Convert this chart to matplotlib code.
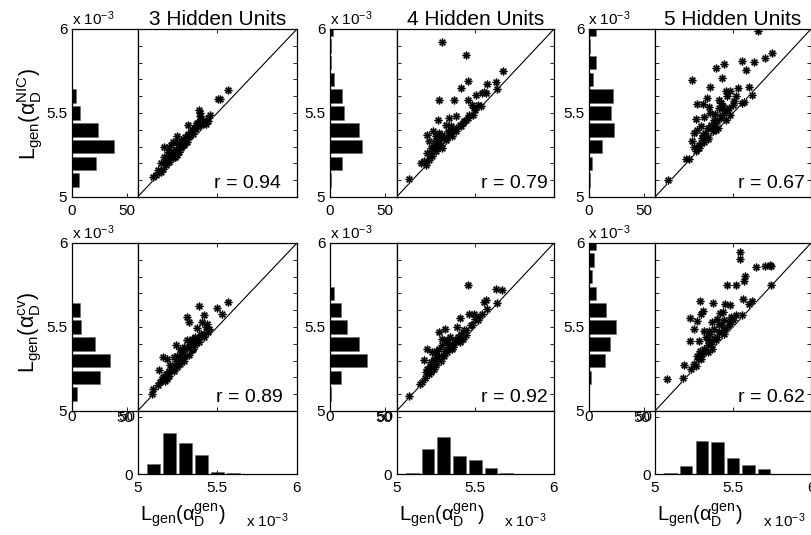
import numpy as np
import matplotlib
matplotlib.use("Agg")
import matplotlib.pyplot as plt

plt.rcParams['font.family'] = ['Liberation Sans', 'DejaVu Sans']
plt.rcParams['mathtext.fontset'] = 'custom'
plt.rcParams['mathtext.rm'] = 'Liberation Sans'
plt.rcParams['mathtext.it'] = 'Liberation Sans:italic'
plt.rcParams['mathtext.sf'] = 'Liberation Sans'

# ---- data (losses in units of 1e-3) ----
titles = ['3 Hidden Units', '4 Hidden Units', '5 Hidden Units']
row_labels = [r'$\mathregular{L_{gen}(\alpha_D^{NIC})}$',
              r'$\mathregular{L_{gen}(\alpha_D^{cv})}$']
x_label = r'$\mathregular{L_{gen}(\alpha_D^{gen})}$'

r_top = [0.94, 0.79, 0.67]
r_bottom = [0.89, 0.92, 0.62]

bins = [5.0, 5.1, 5.2, 5.3, 5.4, 5.5, 5.6, 5.7, 5.8, 5.9, 6.0]

# side histograms (counts per bin)
nic3_counts = [0, 7, 22, 39, 24, 8, 4, 0, 0, 0, 0]
nic4_counts = [0, 1, 11, 29, 26, 13, 11, 4, 1, 1, 3]
nic5_counts = [0, 1, 3, 12, 23, 20, 22, 4, 7, 1, 7]
cv3_counts = [0, 5, 26, 35, 21, 9, 8, 0, 0, 0, 0]
cv4_counts = [0, 1, 10, 34, 26, 16, 10, 4, 0, 0, 0]
cv5_counts = [0, 0, 2, 15, 19, 25, 16, 7, 3, 5, 7]

# bottom histograms of L_gen(alpha_gen)
gen3_counts = [0, 9, 36, 27, 17, 2, 1, 0, 0, 0, 0]
gen4_counts = [0, 1, 22, 32, 16, 12, 5, 1, 0, 0, 0]
gen5_counts = [0, 1, 7, 29, 28, 14, 8, 4, 0, 0, 0]

nic3_pts = [(5.095, 5.119), (5.116, 5.129), (5.126, 5.158), (5.137, 5.149), (5.147, 5.150),
            (5.158, 5.168), (5.164, 5.297), (5.179, 5.188), (5.168, 5.238), (5.189, 5.267),
            (5.200, 5.218), (5.200, 5.210), (5.211, 5.248), (5.221, 5.230), (5.232, 5.238),
            (5.232, 5.240), (5.248, 5.366), (5.253, 5.287), (5.263, 5.267), (5.274, 5.317),
            (5.284, 5.307), (5.295, 5.327), (5.305, 5.347), (5.316, 5.426), (5.316, 5.376),
            (5.326, 5.356), (5.337, 5.386), (5.347, 5.376), (5.358, 5.406), (5.368, 5.426),
            (5.379, 5.436), (5.383, 5.515), (5.389, 5.485), (5.400, 5.465), (5.411, 5.436),
            (5.421, 5.446), (5.432, 5.436), (5.442, 5.455), (5.453, 5.489), (5.505, 5.584),
            (5.516, 5.584), (5.568, 5.638), (5.211, 5.307), (5.242, 5.327), (5.179, 5.238),
            (5.220, 5.270), (5.240, 5.280), (5.260, 5.300), (5.270, 5.290), (5.280, 5.330),
            (5.290, 5.310), (5.300, 5.360), (5.310, 5.330), (5.330, 5.370), (5.340, 5.400),
            (5.350, 5.390), (5.360, 5.410), (5.190, 5.220), (5.210, 5.230), (5.230, 5.260),
            (5.250, 5.250), (5.270, 5.340), (5.200, 5.300), (5.220, 5.330), (5.150, 5.200),
            (5.170, 5.210), (5.400, 5.430), (5.440, 5.470), (5.380, 5.420), (5.370, 5.440),
            (5.390, 5.500), (5.390, 5.460)]

nic4_pts = [(5.079, 5.109), (5.287, 5.921), (5.440, 5.847), (5.674, 5.752), (5.451, 5.688),
            (5.409, 5.649), (5.572, 5.673), (5.632, 5.685), (5.638, 5.643), (5.270, 5.579),
            (5.362, 5.575), (5.457, 5.579), (5.504, 5.609), (5.557, 5.625), (5.568, 5.619),
            (5.543, 5.619), (5.479, 5.546), (5.494, 5.530), (5.536, 5.540), (5.483, 5.490),
            (5.451, 5.470), (5.377, 5.480), (5.334, 5.470), (5.266, 5.460), (5.313, 5.431),
            (5.345, 5.421), (5.409, 5.421), (5.430, 5.450), (5.232, 5.391), (5.196, 5.371),
            (5.249, 5.361), (5.291, 5.371), (5.355, 5.361), (5.377, 5.391), (5.206, 5.331),
            (5.238, 5.311), (5.270, 5.320), (5.313, 5.341), (5.217, 5.291), (5.249, 5.272),
            (5.291, 5.290), (5.196, 5.262), (5.228, 5.242), (5.206, 5.222), (5.174, 5.212),
            (5.153, 5.202), (5.185, 5.190), (5.260, 5.300), (5.280, 5.350), (5.330, 5.390),
            (5.400, 5.430), (5.440, 5.460), (5.220, 5.260), (5.240, 5.290), (5.260, 5.330),
            (5.280, 5.310), (5.300, 5.360), (5.320, 5.350), (5.340, 5.380), (5.360, 5.400),
            (5.380, 5.410), (5.420, 5.440), (5.460, 5.490), (5.500, 5.520), (5.520, 5.550),
            (5.250, 5.340), (5.270, 5.380), (5.210, 5.250)]

nic5_pts = [(5.084, 5.099), (5.659, 5.986), (5.749, 5.857), (5.708, 5.827), (5.633, 5.802),
            (5.556, 5.812), (5.584, 5.758), (5.440, 5.792), (5.391, 5.768), (5.234, 5.698),
            (5.430, 5.708), (5.352, 5.653), (5.455, 5.629), (5.481, 5.633), (5.530, 5.649),
            (5.605, 5.653), (5.620, 5.609), (5.333, 5.589), (5.412, 5.579), (5.459, 5.599),
            (5.519, 5.599), (5.268, 5.554), (5.310, 5.554), (5.348, 5.534), (5.438, 5.540),
            (5.476, 5.530), (5.573, 5.565), (5.556, 5.560), (5.508, 5.573), (5.262, 5.466),
            (5.315, 5.474), (5.382, 5.494), (5.427, 5.490), (5.481, 5.490), (5.380, 5.460),
            (5.455, 5.460), (5.294, 5.420), (5.251, 5.381), (5.337, 5.411), (5.401, 5.411),
            (5.305, 5.371), (5.369, 5.390), (5.236, 5.331), (5.294, 5.321), (5.337, 5.345),
            (5.273, 5.292), (5.315, 5.330), (5.262, 5.272), (5.283, 5.290), (5.219, 5.228),
            (5.197, 5.226), (5.390, 5.400), (5.430, 5.530), (5.420, 5.560), (5.360, 5.430),
            (5.280, 5.310), (5.300, 5.350), (5.320, 5.380), (5.340, 5.360), (5.360, 5.410),
            (5.380, 5.420), (5.400, 5.450), (5.420, 5.470), (5.440, 5.500), (5.460, 5.520),
            (5.500, 5.550), (5.250, 5.300), (5.270, 5.400), (5.350, 5.500), (5.410, 5.530)]

cv3_pts = [(5.089, 5.103), (5.099, 5.133), (5.131, 5.153), (5.137, 5.242), (5.152, 5.192),
           (5.173, 5.180), (5.162, 5.321), (5.194, 5.222), (5.205, 5.272), (5.188, 5.312),
           (5.226, 5.321), (5.215, 5.242), (5.243, 5.395), (5.247, 5.327), (5.268, 5.371),
           (5.278, 5.312), (5.300, 5.371), (5.310, 5.420), (5.321, 5.331), (5.331, 5.411),
           (5.342, 5.361), (5.352, 5.420), (5.310, 5.560), (5.321, 5.530), (5.384, 5.625),
           (5.416, 5.569), (5.373, 5.494), (5.405, 5.530), (5.437, 5.520), (5.441, 5.470),
           (5.420, 5.440), (5.395, 5.460), (5.500, 5.613), (5.532, 5.579), (5.568, 5.649),
           (5.247, 5.260), (5.226, 5.240), (5.268, 5.280), (5.289, 5.300), (5.184, 5.192),
           (5.200, 5.210), (5.260, 5.290), (5.360, 5.440), (5.384, 5.411), (5.342, 5.430),
           (5.220, 5.260), (5.240, 5.300), (5.260, 5.330), (5.280, 5.350), (5.300, 5.330),
           (5.320, 5.380), (5.340, 5.400), (5.360, 5.390), (5.380, 5.430), (5.400, 5.450),
           (5.420, 5.460), (5.440, 5.480), (5.200, 5.240), (5.180, 5.220), (5.160, 5.200),
           (5.140, 5.170), (5.290, 5.380), (5.270, 5.300), (5.250, 5.280), (5.450, 5.490),
           (5.430, 5.500), (5.350, 5.370)]

cv4_pts = [(5.079, 5.089), (5.147, 5.163), (5.164, 5.173), (5.181, 5.196), (5.196, 5.252),
           (5.206, 5.222), (5.174, 5.302), (5.196, 5.371), (5.228, 5.351), (5.217, 5.292),
           (5.238, 5.312), (5.249, 5.272), (5.253, 5.331), (5.270, 5.370), (5.270, 5.470),
           (5.308, 5.486), (5.291, 5.431), (5.313, 5.411), (5.334, 5.391), (5.338, 5.440),
           (5.355, 5.371), (5.376, 5.411), (5.387, 5.500), (5.406, 5.554), (5.430, 5.480),
           (5.441, 5.450), (5.457, 5.748), (5.461, 5.579), (5.494, 5.579), (5.500, 5.550),
           (5.517, 5.540), (5.479, 5.510), (5.557, 5.649), (5.567, 5.659), (5.572, 5.609),
           (5.632, 5.728), (5.670, 5.722), (5.636, 5.645), (5.320, 5.350), (5.280, 5.300),
           (5.300, 5.330), (5.360, 5.380), (5.400, 5.410), (5.420, 5.430), (5.240, 5.250),
           (5.220, 5.230), (5.230, 5.270), (5.260, 5.310), (5.280, 5.330), (5.310, 5.360),
           (5.330, 5.370), (5.350, 5.400), (5.370, 5.420), (5.390, 5.440), (5.410, 5.460),
           (5.440, 5.480), (5.470, 5.510), (5.520, 5.560), (5.540, 5.580), (5.290, 5.390),
           (5.320, 5.420), (5.250, 5.360), (5.210, 5.270), (5.190, 5.230)]

cv5_pts = [(5.075, 5.192), (5.182, 5.196), (5.187, 5.272), (5.230, 5.252), (5.251, 5.282),
           (5.273, 5.312), (5.262, 5.270), (5.283, 5.331), (5.225, 5.417), (5.279, 5.415),
           (5.251, 5.490), (5.225, 5.554), (5.268, 5.534), (5.294, 5.579), (5.305, 5.593),
           (5.290, 5.655), (5.373, 5.643), (5.448, 5.639), (5.483, 5.633), (5.416, 5.585),
           (5.433, 5.589), (5.519, 5.569), (5.556, 5.569), (5.363, 5.530), (5.412, 5.520),
           (5.444, 5.540), (5.483, 5.534), (5.315, 5.474), (5.343, 5.474), (5.380, 5.490),
           (5.412, 5.470), (5.444, 5.480), (5.337, 5.420), (5.390, 5.420), (5.444, 5.460),
           (5.315, 5.371), (5.363, 5.371), (5.337, 5.350), (5.298, 5.310), (5.562, 5.669),
           (5.605, 5.639), (5.620, 5.653), (5.461, 5.748), (5.519, 5.748), (5.569, 5.772),
           (5.577, 5.802), (5.547, 5.946), (5.547, 5.903), (5.648, 5.857), (5.702, 5.863),
           (5.734, 5.871), (5.745, 5.863), (5.745, 5.750), (5.400, 5.550), (5.420, 5.510),
           (5.490, 5.560), (5.300, 5.340), (5.320, 5.360), (5.340, 5.390), (5.360, 5.400),
           (5.380, 5.430), (5.400, 5.440), (5.420, 5.470), (5.460, 5.500), (5.480, 5.520),
           (5.500, 5.540), (5.270, 5.330), (5.290, 5.360), (5.330, 5.440), (5.350, 5.460)]

side_counts = [[nic3_counts, nic4_counts, nic5_counts], [cv3_counts, cv4_counts, cv5_counts]]
bottom_counts = [gen3_counts, gen4_counts, gen5_counts]
scatter_pts = [[nic3_pts, nic4_pts, nic5_pts], [cv3_pts, cv4_pts, cv5_pts]]
r_values = [r_top, r_bottom]

# ---- layout in pixels ----
W, H = 811, 535
hist_x = [(71.5, 137.5), (329.5, 396.5), (588.5, 655.0)]
scat_x = [(137.5, 297.0), (396.5, 554.0), (655.0, 811.0)]
rows_y = [(29, 197), (243, 411)]
bot_y = (411, 474)
r_text_x = [[5.48, 5.535, 5.53], [5.495, 5.535, 5.53]]


def box(x0, x1, y0, y1):
    return [x0 / W, 1 - y1 / H, (x1 - x0) / W, (y1 - y0) / H]


def fpos(x, y):
    return x / W, 1 - y / H


fig = plt.figure(figsize=(W / 100, H / 100), dpi=100)
tick_fs = 11
lw = 0.9
exp_label = r'x 10$^{\mathregular{-3}}$'

for row in range(2):
    for col in range(3):
        y0, y1 = rows_y[row]
        # side histogram
        axh = fig.add_axes(box(hist_x[col][0], hist_x[col][1], y0, y1))
        axh.barh(bins, side_counts[row][col], height=0.08, color='k', edgecolor='#666666', linewidth=0.4)
        axh.set_xlim(0, 60)
        axh.set_ylim(5, 6)
        axh.set_xticks([0, 50])
        axh.set_xticklabels(['0', '50'])
        axh.set_yticks([5, 5.5, 6])
        axh.set_yticklabels(['5', '5.5', '6'])
        axh.tick_params(direction='in', length=3, labelsize=tick_fs, pad=3, width=0.6)
        axh.tick_params(axis='x', pad=5 if row == 0 else -1)
        for s in axh.spines.values():
            s.set_linewidth(lw)
        fig.text(*fpos(hist_x[col][0], y0 - 4), exp_label, fontsize=11, ha='left', va='baseline')

        # scatter
        axs = fig.add_axes(box(scat_x[col][0], scat_x[col][1], y0, y1))
        pts = np.array(scatter_pts[row][col])
        axs.plot([5, 6], [5, 6], color='k', lw=0.8)
        axs.plot(pts[:, 0], pts[:, 1], ls='none', marker=(8, 2, 0), ms=5.5, mew=1.4,
                 color='#b4b4b4')
        axs.plot(pts[:, 0], pts[:, 1], ls='none', marker=(8, 2, 0), ms=5.5, mew=0.8, color='k')
        axs.set_xlim(5, 6)
        axs.set_ylim(5, 6)
        axs.set_xticks([5, 5.5, 6])
        axs.set_yticks(np.linspace(5, 6, 11))
        axs.tick_params(direction='in', length=3, width=0.6, labelleft=False, labelbottom=False,
                        top=True, right=True)
        for s in axs.spines.values():
            s.set_linewidth(lw)
        axs.text(r_text_x[row][col], 5.08, 'r = %.2f' % r_values[row][col], fontsize=14,
                 ha='left', va='center')
        if row == 0:
            axs.set_title(titles[col], fontsize=15, pad=1.5)

# bottom histograms
for col in range(3):
    axb = fig.add_axes(box(scat_x[col][0], scat_x[col][1], bot_y[0], bot_y[1]))
    axb.bar(bins, bottom_counts[col], width=0.08, color='k', edgecolor='#666666', linewidth=0.4)
    axb.set_xlim(5, 6)
    axb.set_ylim(0, 55)
    axb.set_xticks([5, 5.5, 6])
    axb.set_xticklabels(['5', '5.5', '6'])
    axb.set_yticks([0, 50])
    axb.set_yticklabels(['0', '50'])
    axb.tick_params(direction='in', length=3, width=0.6, labelsize=tick_fs, pad=3)
    axb.tick_params(axis='x', pad=5)
    for s in axb.spines.values():
        s.set_linewidth(lw)
    xl = scat_x[col][0]
    fig.text(*fpos(xl + 45, 516), x_label, fontsize=14.5, ha='center', va='center')
    fig.text(*fpos(xl + 108, 527), exp_label, fontsize=11, ha='left', va='baseline')

# row labels
fig.text(*fpos(30, 114), row_labels[0], fontsize=15.5, rotation=90, ha='center', va='center')
fig.text(*fpos(30, 332), row_labels[1], fontsize=15.5, rotation=90, ha='center', va='center')

fig.savefig('out.png', dpi=100)
